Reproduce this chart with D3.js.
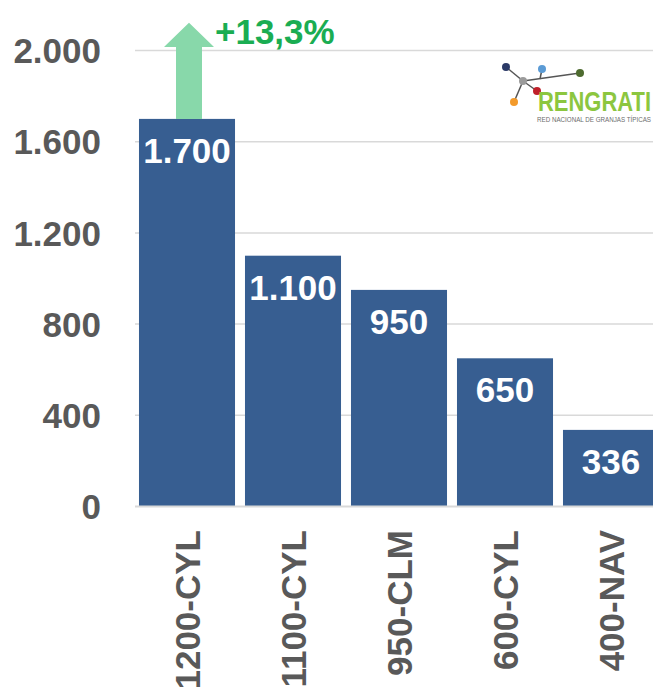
<!DOCTYPE html>
<html>
<head>
<meta charset="utf-8">
<title>Granjas tipicas</title>
<style>
    body { margin: 0; background: #fff; }
    svg { display: block; }
    .tick-lab { font-family: "Liberation Sans", Arial, sans-serif; font-weight: bold; font-size: 35px; fill: #595959; }
</style>
</head>
<body>
<script src="https://cdn.jsdelivr.net/npm/d3@7"></script>
<script>
    // data
    var farms = ["1200-CYL", "1100-CYL", "950-CLM", "600-CYL", "400-NAV"];
    var values = [1700, 1100, 950, 650, 336];
    var valueLabels = ["1.700", "1.100", "950", "650", "336"];
    var yTicks = [0, 400, 800, 1200, 1600, 2000];
    var yTickLabels = ["0", "400", "800", "1.200", "1.600", "2.000"];
    var growthLabel = "+13,3%";
    var arrowBase = 1700, arrowNeck = 2015, arrowTip = 2122;

    var width = 653, height = 687;
    var plotLeft = 134, plotRight = 664, plotBase = 506.5, plotTop = 50.5;

    var svg = d3.select("body").append("svg")
        .attr("width", width)
        .attr("height", height);

    var x = d3.scaleBand()
        .domain(farms)
        .range([plotLeft, plotRight])
        .paddingInner(0.094)
        .paddingOuter(0.047);

    var y = d3.scaleLinear()
        .domain([0, 2000])
        .range([plotBase, plotTop]);

    // gridlines
    svg.append("g")
        .selectAll("line")
        .data(yTicks.filter(function (d) { return d > 0; }))
        .enter()
        .append("line")
        .attr("x1", plotLeft + 1)
        .attr("x2", width)
        .attr("y1", function (d) { return y(d); })
        .attr("y2", function (d) { return y(d); })
        .attr("stroke", "#d9d9d9")
        .attr("stroke-width", 1.5);

    // y tick labels
    svg.append("g")
        .selectAll("text")
        .data(yTicks)
        .enter()
        .append("text")
        .attr("class", "tick-lab")
        .attr("x", 101)
        .attr("y", function (d) { return y(d); })
        .attr("dy", "0.36em")
        .attr("text-anchor", "end")
        .text(function (d, i) { return yTickLabels[i]; });

    // bars
    svg.append("g")
        .selectAll("rect")
        .data(values)
        .enter()
        .append("rect")
        .attr("x", function (d, i) { return x(farms[i]); })
        .attr("y", function (d) { return y(d); })
        .attr("width", x.bandwidth())
        .attr("height", function (d) { return y(0) - y(d); })
        .attr("fill", "#375e91");

    // baseline
    svg.append("line")
        .attr("x1", plotLeft + 1)
        .attr("x2", width)
        .attr("y1", y(0))
        .attr("y2", y(0))
        .attr("stroke", "#d9d9d9")
        .attr("stroke-width", 2);

    // value labels inside bars
    svg.append("g")
        .selectAll("text")
        .data(values)
        .enter()
        .append("text")
        .attr("x", function (d, i) { return x(farms[i]) + x.bandwidth() / 2; })
        .attr("y", function (d) { return y(d) + 44; })
        .attr("text-anchor", "middle")
        .style("font-family", "Liberation Sans, Arial, sans-serif")
        .style("font-weight", "bold")
        .style("font-size", "35px")
        .style("fill", "#ffffff")
        .text(function (d, i) { return valueLabels[i]; });

    // category labels, rotated
    svg.append("g")
        .selectAll("text")
        .data(farms)
        .enter()
        .append("text")
        .attr("class", "tick-lab")
        .attr("transform", function (d) {
            return "translate(" + (x(d) + x.bandwidth() / 2) + ",530) rotate(-90)";
        })
        .attr("dy", "0.36em")
        .attr("text-anchor", "end")
        .text(function (d) { return d; });

    // growth arrow on the first bar
    var cx = x(farms[0]) + x.bandwidth() / 2 + 2;
    var shaftW = 13, headW = 25;
    var arrowPts = [
        [cx - shaftW, y(arrowBase)], [cx - shaftW, y(arrowNeck)], [cx - headW, y(arrowNeck)],
        [cx, y(arrowTip)],
        [cx + headW, y(arrowNeck)], [cx + shaftW, y(arrowNeck)], [cx + shaftW, y(arrowBase)]
    ];
    svg.append("path")
        .attr("d", d3.line()(arrowPts) + "Z")
        .attr("fill", "#88d8aa");

    svg.append("text")
        .attr("x", cx + headW + 1)
        .attr("y", 44)
        .style("font-family", "Liberation Sans, Arial, sans-serif")
        .style("font-weight", "bold")
        .style("font-size", "35px")
        .style("fill", "#1aad52")
        .text(growthLabel);

    // RENGRATI logo
    var logo = svg.append("g");
    var nodes = {
        navy: [506, 67, "#2b3a67"], gray: [523, 81, "#9b9b9b"], blue: [542, 69, "#5b9bd5"],
        green: [580, 73, "#4e6b2f"], red: [537, 91, "#c0202a"], orange: [514, 102, "#f39a2b"]
    };
    var links = [["navy", "gray"], ["gray", "orange"], ["gray", "green"], ["gray", "red"]];
    links.forEach(function (l) {
        logo.append("line")
            .attr("x1", nodes[l[0]][0]).attr("y1", nodes[l[0]][1])
            .attr("x2", nodes[l[1]][0]).attr("y2", nodes[l[1]][1])
            .attr("stroke", "#555").attr("stroke-width", 1.5);
    });
    logo.append("line")
        .attr("x1", 542).attr("y1", 69).attr("x2", 540).attr("y2", 79)
        .attr("stroke", "#555").attr("stroke-width", 1.5);
    Object.keys(nodes).forEach(function (k) {
        logo.append("circle")
            .attr("cx", nodes[k][0]).attr("cy", nodes[k][1])
            .attr("r", 4).attr("fill", nodes[k][2]);
    });
    logo.append("text")
        .attr("x", 538).attr("y", 111)
        .attr("textLength", 113)
        .attr("lengthAdjust", "spacingAndGlyphs")
        .style("font-family", "Liberation Sans, Arial, sans-serif")
        .style("font-weight", "bold")
        .style("font-size", "27px")
        .style("fill", "#8cc63f")
        .text("RENGRATI");
    logo.append("text")
        .attr("x", 537).attr("y", 122)
        .attr("textLength", 114)
        .attr("lengthAdjust", "spacingAndGlyphs")
        .style("font-family", "Liberation Sans, Arial, sans-serif")
        .style("font-size", "7px")
        .style("fill", "#6d6d6d")
        .text("RED NACIONAL DE GRANJAS TÍPICAS");
</script>
</body>
</html>
